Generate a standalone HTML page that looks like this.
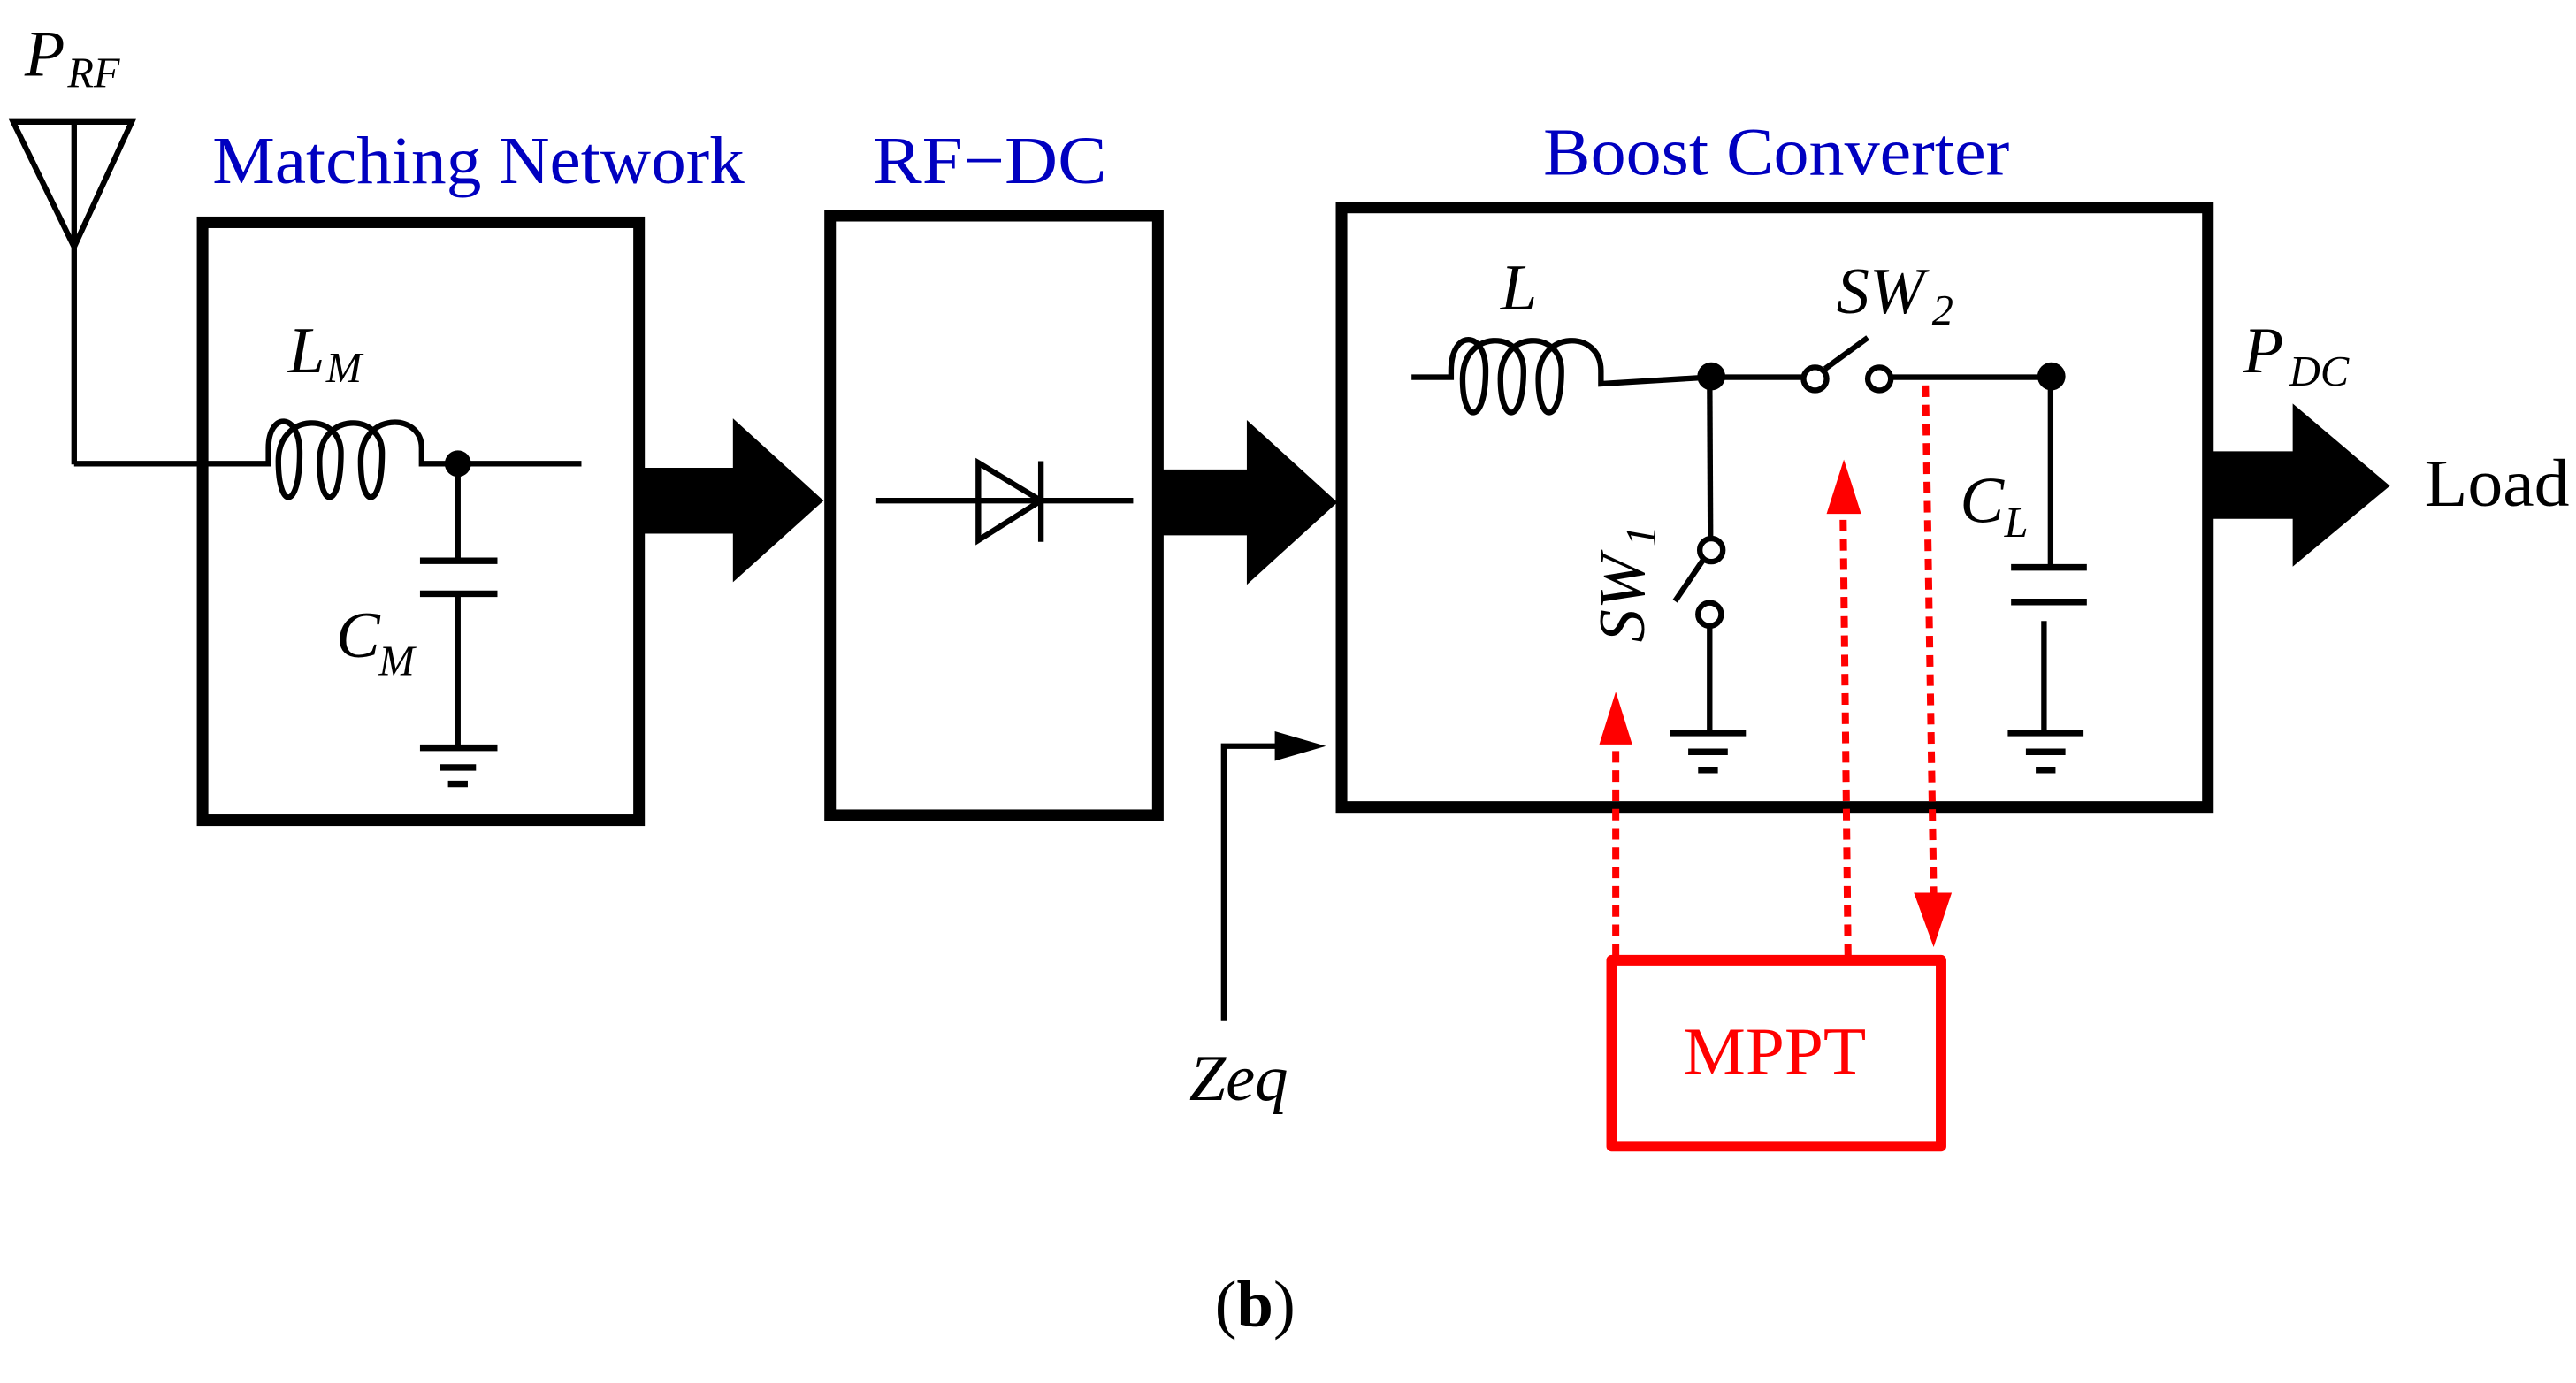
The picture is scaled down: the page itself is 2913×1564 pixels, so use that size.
<!DOCTYPE html>
<html><head><meta charset="utf-8"><style>html,body{margin:0;padding:0;background:#fff}svg{display:block}svg text{font-family:"Liberation Serif","Times New Roman",serif}</style></head>
<body>
<svg xmlns="http://www.w3.org/2000/svg" width="2913" height="1564" viewBox="0 0 1564 839.7">
<rect width="1564" height="840" fill="#fff"/>
<g>
<!-- antenna -->
<g stroke="#000" stroke-width="3.4" fill="none" stroke-linejoin="miter">
<polygon points="8,74 80,74 45,150"/>
<line x1="45" y1="74" x2="45" y2="282"/>
<polyline points="45,281.5 122,281.5"/>
</g>
<text x="15" y="46" font-size="40" font-style="italic">P</text>
<text x="41" y="53" font-size="26" font-style="italic">RF</text>

<!-- Matching network -->
<text x="129" y="111" font-size="41" fill="#0000c0" textLength="323" lengthAdjust="spacingAndGlyphs">Matching Network</text>
<rect x="123" y="135" width="265" height="363" fill="none" stroke="#000" stroke-width="7"/>
<g stroke="#000" stroke-width="3.4" fill="none">
<path d="M122,281.5 H163 V272 C163,250 182,250 182,275 C182,310 169,310 169,280 C169,250 207,250 207,275 C207,310 194,310 194,280 C194,250 232,250 232,275 C232,310 219,310 219,280 C219,250 256,250 256,272 V281.5 H353"/>
<line x1="278" y1="281.5" x2="278" y2="340"/>
<line x1="255" y1="340.5" x2="302" y2="340.5" stroke-width="4"/>
<line x1="255" y1="360.5" x2="302" y2="360.5" stroke-width="4"/>
<line x1="278" y1="360" x2="278" y2="454"/>
<line x1="255" y1="454" x2="302" y2="454" stroke-width="4"/>
<line x1="267" y1="466" x2="289" y2="466" stroke-width="4"/>
<line x1="272" y1="476" x2="284" y2="476" stroke-width="4"/>
</g>
<ellipse cx="278" cy="281.5" rx="8" ry="8"/>
<text x="175" y="226" font-size="40" font-style="italic">L</text>
<text x="198" y="232" font-size="26" font-style="italic">M</text>
<text x="204" y="399" font-size="40" font-style="italic">C</text>
<text x="230" y="410" font-size="26" font-style="italic">M</text>

<!-- arrow 1 -->
<polygon points="389,284 445,284 445,254 500,304 445,353.5 445,324 389,324"/>

<!-- RF-DC -->
<text x="530" y="111" font-size="41" fill="#0000c0" textLength="142" lengthAdjust="spacingAndGlyphs">RF−DC</text>
<rect x="504" y="131" width="199" height="364" fill="none" stroke="#000" stroke-width="7"/>
<g stroke="#000" stroke-width="3.4" fill="none">
<line x1="532" y1="304" x2="688" y2="304"/>
<polygon points="594,281 632,304 594,328"/>
<line x1="632" y1="280" x2="632" y2="329"/>
</g>

<!-- arrow 2 -->
<polygon points="703,285 757,285 757,255 812,305 757,355 757,325 703,325"/>

<!-- Zeq -->
<polyline points="743,620 743,453 776,453" fill="none" stroke="#000" stroke-width="3.4"/>
<polygon points="774,444 805,453 774,462"/>
<text x="722" y="668" font-size="40" font-style="italic">Zeq</text>

<!-- Boost -->
<text x="937" y="106" font-size="41" fill="#0000c0" textLength="283" lengthAdjust="spacingAndGlyphs">Boost Converter</text>
<rect x="814.5" y="126" width="526" height="364" fill="none" stroke="#000" stroke-width="7"/>
<g stroke="#000" stroke-width="3.4" fill="none">
<path d="M857,229 H881 V225 C881,200 902,200 902,225 C902,258 888,258 888,230 C888,200 925,200 925,225 C925,258 911,258 911,230 C911,200 948,200 948,225 C948,258 934,258 934,230 C934,200 972,200 972,225 V233 L1038,229 H1094"/>
<circle cx="1102" cy="230" r="7"/>
<line x1="1108" y1="224" x2="1134" y2="205"/>
<circle cx="1141" cy="230" r="7"/>
<line x1="1148" y1="229" x2="1245" y2="229"/>
<line x1="1038" y1="229" x2="1038.5" y2="326"/>
<circle cx="1039" cy="334" r="7"/>
<line x1="1034" y1="340" x2="1017" y2="365"/>
<circle cx="1038" cy="373" r="7"/>
<line x1="1038" y1="380" x2="1038" y2="445"/>
<line x1="1014" y1="445" x2="1060" y2="445" stroke-width="4"/>
<line x1="1025" y1="456.5" x2="1049" y2="456.5" stroke-width="4"/>
<line x1="1031" y1="467.5" x2="1043" y2="467.5" stroke-width="4"/>
<line x1="1245" y1="229" x2="1245" y2="344"/>
<line x1="1221" y1="344.5" x2="1267" y2="344.5" stroke-width="4"/>
<line x1="1221" y1="365.5" x2="1267" y2="365.5" stroke-width="4"/>
<line x1="1241" y1="377" x2="1241" y2="445"/>
<line x1="1219" y1="445" x2="1265" y2="445" stroke-width="4"/>
<line x1="1230" y1="456.5" x2="1254" y2="456.5" stroke-width="4"/>
<line x1="1236" y1="467.5" x2="1248" y2="467.5" stroke-width="4"/>
</g>
<ellipse cx="1039" cy="228.5" rx="8.5" ry="8.5"/>
<ellipse cx="1245.5" cy="228.5" rx="8.5" ry="8.5"/>
<text x="911" y="188" font-size="40" font-style="italic">L</text>
<text x="1115" y="190" font-size="40" font-style="italic">SW</text>
<text x="1173" y="197" font-size="26" font-style="italic">2</text>
<g transform="translate(998,390) rotate(-90)">
<text x="0" y="0" font-size="40" font-style="italic">SW</text>
<text x="58" y="7" font-size="26" font-style="italic">1</text>
</g>
<text x="1190" y="317" font-size="40" font-style="italic">C</text>
<text x="1217" y="326" font-size="26" font-style="italic">L</text>
<text x="1362" y="226" font-size="40" font-style="italic">P</text>
<text x="1390" y="234" font-size="26" font-style="italic">DC</text>

<!-- output arrow -->
<polygon points="1341,274 1392,274 1392,245 1451,295 1392,344 1392,315 1341,315"/>
<text x="1472" y="307" font-size="41" textLength="88" lengthAdjust="spacingAndGlyphs">Load</text>

<!-- red -->
<g stroke="#ff0000" stroke-width="4.3" fill="none" stroke-dasharray="7 4.7">
<line x1="981" y1="580" x2="981" y2="450"/>
<line x1="1122" y1="580" x2="1119" y2="310"/>
<line x1="1169" y1="234" x2="1174" y2="543"/>
</g>
<g fill="#ff0000">
<polygon points="971,452 981,420 991,452"/>
<polygon points="1109,312 1119.5,279 1130,312"/>
<polygon points="1162,542 1174,575 1185,542"/>
</g>
<rect x="978.5" y="583" width="200" height="113" fill="none" stroke="#ff0000" stroke-width="6.4" stroke-linejoin="round"/>
<text x="1022" y="652" font-size="41" fill="#ff0000" textLength="111" lengthAdjust="spacingAndGlyphs">MPPT</text>

<text x="762" y="805" font-size="40" text-anchor="middle">(<tspan font-weight="bold">b</tspan>)</text>
</g>
</svg>
</body></html>
